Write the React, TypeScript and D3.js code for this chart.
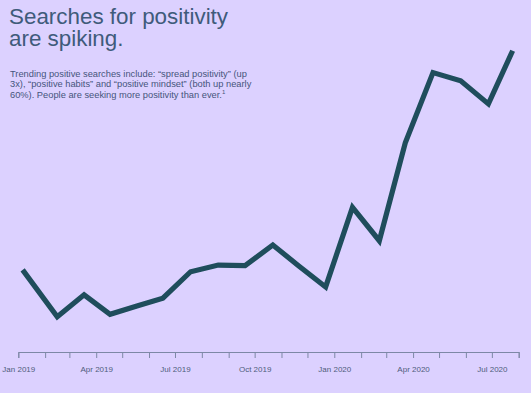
// @ts-nocheck
import { useEffect, useRef } from "react";
import * as d3 from "d3";

const dates = [
  "2019-01-06", "2019-02-15", "2019-03-18", "2019-04-17", "2019-05-18", "2019-06-17",
  "2019-07-19", "2019-08-20", "2019-09-20", "2019-10-22", "2019-11-21", "2019-12-22",
  "2020-01-22", "2020-02-22", "2020-03-23", "2020-04-24", "2020-05-26", "2020-06-27",
  "2020-07-25",
];
const interest = [
  27.0, 11.6, 18.8, 12.4, 15.1, 17.7, 26.4, 28.6, 28.4, 35.2, 28.3, 21.4,
  47.6, 36.6, 68.8, 91.9, 89.2, 81.6, 99.1,
];
const labelMonths = [0, 3, 6, 9];
const titleLines = ["Searches for positivity", "are spiking."];
const noteLines = [
  "Trending positive searches include: \u201Cspread positivity\u201D (up",
  "3x), \u201Cpositive habits\u201D and \u201Cpositive mindset\u201D (both up nearly",
  "60%). People are seeking more positivity than ever.",
];

const W = 531;
const H = 393;
const BG = "#dcd1ff";
const LINE = "#1f4d5c";
const AXIS = "#7d88a6";

export default function App() {
  const gx = useRef<SVGGElement>(null);

  const parse = d3.timeParse("%Y-%m-%d");
  const data = dates.map((d, i) => ({ date: parse(d), value: interest[i] }));

  const x = d3.scaleTime([new Date(2019, 0, 1), new Date(2020, 7, 1)], [18.3, 518.7]);
  const y = d3.scaleLinear([0, 100], [352, 48]);
  const line = d3.line<any>().x(d => x(d.date)).y(d => y(d.value));

  useEffect(() => {
    const fmt = d3.timeFormat("%b %Y");
    const axis = d3.axisBottom(x)
      .ticks(d3.timeMonth.every(1))
      .tickSize(6)
      .tickSizeOuter(6)
      .tickPadding(8)
      .tickFormat(d => (labelMonths.includes(d.getMonth()) ? fmt(d) : ""));
    const g = d3.select(gx.current);
    g.call(axis);
    g.select(".domain").attr("stroke", AXIS);
    g.selectAll(".tick line").attr("stroke", AXIS);
    g.selectAll(".tick text")
      .attr("fill", "#4f5d7c")
      .attr("font-size", 8)
      .attr("font-family", "Liberation Sans, Arial, sans-serif");
  }, []);

  return (
    <svg width={W} height={H} style={{ position: "fixed", left: 0, top: 0, background: BG }}>
      <rect width={W} height={H} fill={BG} />
      <text x={9} fill="#3f5b7b" fontSize={22.4} fontFamily="Liberation Sans, Arial, sans-serif">
        {titleLines.map((t, i) => (
          <tspan key={i} x={9} y={24 + i * 22}>{t}</tspan>
        ))}
      </text>
      <text fill="#46557c" fontSize={9.3} fontFamily="Liberation Sans, Arial, sans-serif">
        {noteLines.map((t, i) => (
          <tspan key={i} x={10} y={77 + i * 10.4}>
            {t}
            {i === noteLines.length - 1 ? (
              <tspan fontSize={6} dy={-4}>1</tspan>
            ) : null}
          </tspan>
        ))}
      </text>
      <path d={line(data)} fill="none" stroke={LINE} strokeWidth={5.2} strokeLinejoin="miter" />
      <g ref={gx} transform="translate(0,352)" />
    </svg>
  );
}
